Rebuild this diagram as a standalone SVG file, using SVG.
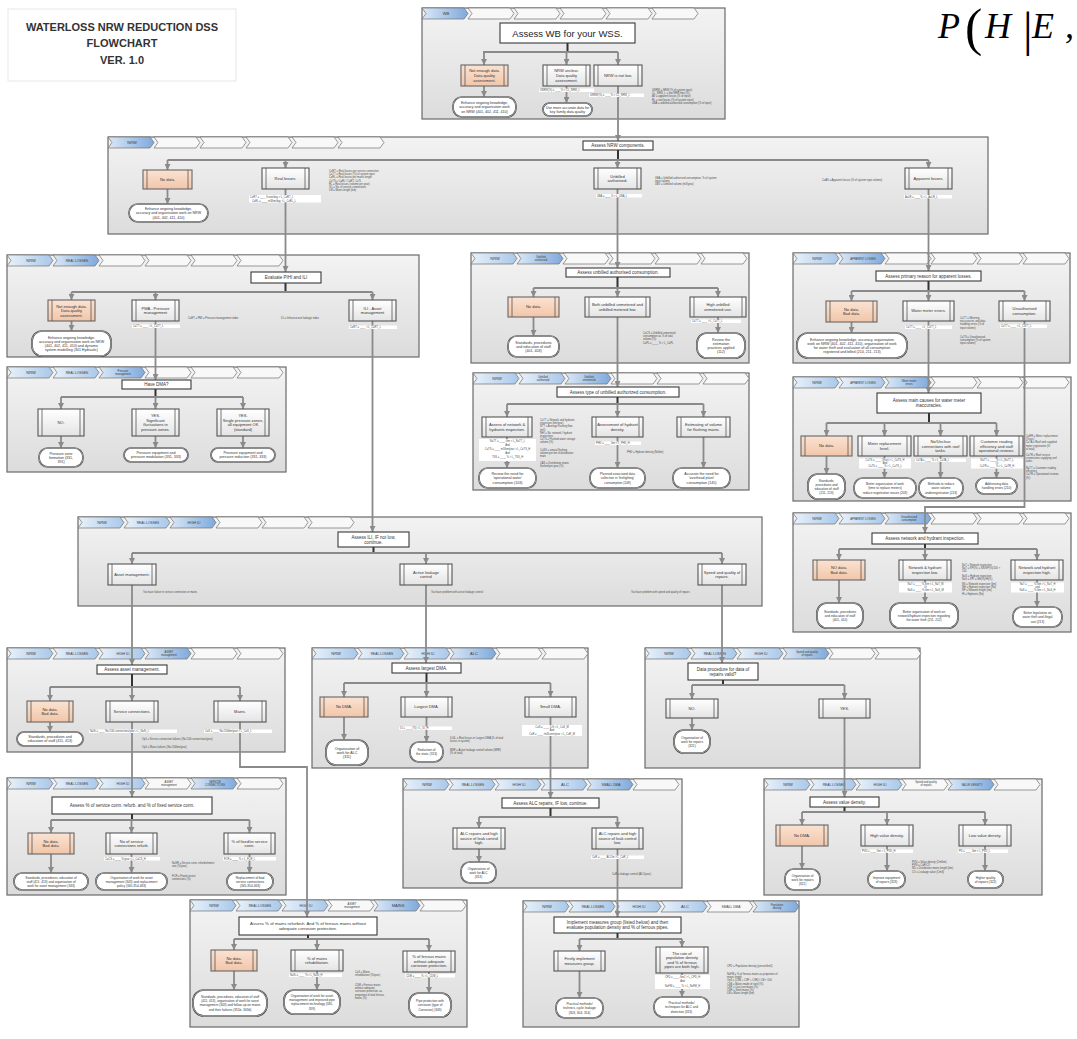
<svg xmlns="http://www.w3.org/2000/svg" width="1077" height="1039" viewBox="0 0 1077 1039">
<style>
text{font-family:"Liberation Sans",Arial,sans-serif;fill:#333}
text.math{font-family:"Liberation Serif","Times New Roman",serif;font-style:italic;fill:#000}
.pn{fill:url(#gP);stroke:#6a6a6a;stroke-width:1.2}
.ch{fill:#f8f8f8;stroke:#707070;stroke-width:0.7}
.cb{fill:url(#gBl);stroke:#707070;stroke-width:0.7}
.ca{fill:url(#gBa);stroke:#707070;stroke-width:0.7}
.p{fill:url(#gB);stroke:#555;stroke-width:1.1}
.o{fill:url(#gO);stroke:#666;stroke-width:1.1}
.b{fill:none;stroke:#555;stroke-width:0.8}
.tm{fill:#fff;stroke:#3a3a3a;stroke-width:1.7}
.tmi{fill:none;stroke:#fff;stroke-width:0.5}
.ti{fill:#fff;stroke:#3a3a3a;stroke-width:1.1}
.wbg{fill:#fff}
.l{font-size:4px;text-anchor:middle}
.tt{font-size:4.5px;text-anchor:middle}
.tr{font-size:3.6px;text-anchor:middle}
.tr2{font-size:3.2px;text-anchor:middle}
.s{font-size:2.6px;fill:#4a4a4a}
.hd{font-size:4px;text-anchor:middle;fill:#3a3a3a}
.hd3{font-size:3.3px;text-anchor:middle;fill:#3a3a3a}
.hd2{font-size:2.7px;text-anchor:middle;fill:#3a3a3a}
.c{fill:none;stroke:#8a8a8a;stroke-width:1.8;marker-end:url(#ah)}
.h{fill:none;stroke:#8a8a8a;stroke-width:1.8}
.d{fill:none;stroke:#333;stroke-width:2}
</style>
<defs>
<linearGradient id="gP" x1="0" y1="0" x2="0" y2="1"><stop offset="0" stop-color="#f3f3f3"/><stop offset="1" stop-color="#dcdcdc"/></linearGradient>
<linearGradient id="gB" x1="0" y1="0" x2="0" y2="1"><stop offset="0" stop-color="#ffffff"/><stop offset="1" stop-color="#e4e4e4"/></linearGradient>
<linearGradient id="gO" x1="0" y1="0" x2="0" y2="1"><stop offset="0" stop-color="#fbe2d2"/><stop offset="1" stop-color="#f1c6a9"/></linearGradient>
<linearGradient id="gBl" x1="0" y1="0" x2="1" y2="0"><stop offset="0" stop-color="#e8f1fa"/><stop offset="1" stop-color="#a9c8ea"/></linearGradient>
<linearGradient id="gBa" x1="0" y1="0" x2="1" y2="0"><stop offset="0" stop-color="#dbe8f6"/><stop offset="1" stop-color="#7ea9dc"/></linearGradient>
<path id="cv" d="M0,0H42L46,5.5L42,11H0L4,5.5Z"/>
<marker id="ah" viewBox="0 0 8 8" refX="8" refY="4" markerWidth="6" markerHeight="6" markerUnits="userSpaceOnUse" orient="auto"><path d="M0,0L8,4L0,8Z" fill="#8a8a8a"/></marker>
</defs>
<rect width="1077" height="1039" fill="#fff"/>

<g id="title-box"><rect x="8" y="9" width="228" height="72" fill="#fff" stroke="#e2e2e2" stroke-width="0.8"/>
<text font-weight="bold" font-size="11" text-anchor="middle" fill="#222"><tspan x="122" y="31">WATERLOSS NRW REDUCTION DSS</tspan><tspan x="122" y="47">FLOWCHART</tspan><tspan x="122" y="64">VER. 1.0</tspan></text></g>

<g id="formula"><text class="math" font-size="36"><tspan x="938" y="38">P</tspan><tspan x="965" y="45" font-style="normal" font-size="52">(</tspan><tspan x="985" y="38">H</tspan><tspan x="1023" y="46" font-style="normal" font-size="48">|</tspan><tspan x="1032" y="38">E</tspan><tspan x="1065" y="38">,</tspan></text></g>

<g id="panels">
<g id="panel-wb"><rect class="pn" x="422" y="8" width="303" height="111"/>
<use href="#cv" x="422" y="8" class="ca"/><use href="#cv" x="468" y="8" class="ch"/><use href="#cv" x="514" y="8" class="ch"/><use href="#cv" x="560" y="8" class="ch"/><use href="#cv" x="606" y="8" class="ch"/><use href="#cv" x="652" y="8" class="ch"/>
<text class="hd" x="446" y="15">WB</text></g>

<g id="panel-nrw"><rect class="pn" x="108" y="137" width="880" height="97"/>
<use href="#cv" x="108" y="137" class="ca"/><use href="#cv" x="154" y="137" class="ch"/><use href="#cv" x="200" y="137" class="ch"/><use href="#cv" x="246" y="137" class="ch"/><use href="#cv" x="292" y="137" class="ch"/><use href="#cv" x="338" y="137" class="ch"/>
<text class="hd" x="132" y="144">NRW</text></g>

<g id="panel-real"><rect class="pn" x="7" y="255" width="412" height="102"/>
<use href="#cv" x="7" y="255" class="cb"/><use href="#cv" x="53" y="255" class="ca"/><use href="#cv" x="99" y="255" class="ch"/><use href="#cv" x="145" y="255" class="ch"/><use href="#cv" x="191" y="255" class="ch"/><use href="#cv" x="237" y="255" class="ch"/>
<text class="hd" x="31" y="262">NRW</text><text class="hd3" x="77" y="262">REAL LOSSES</text></g>

<g id="panel-dma"><rect class="pn" x="7" y="367" width="279" height="105"/>
<use href="#cv" x="7" y="367" class="cb"/><use href="#cv" x="53" y="367" class="cb"/><use href="#cv" x="99" y="367" class="ca"/><use href="#cv" x="145" y="367" class="ch"/><use href="#cv" x="191" y="367" class="ch"/><use href="#cv" x="237" y="367" class="ch"/>
<text class="hd" x="31" y="374">NRW</text><text class="hd3" x="77" y="374">REAL LOSSES</text><text class="hd2"><tspan x="123" y="371.8">Pressure</tspan><tspan x="123" y="375.3">management</tspan></text></g>

<g id="panel-unbilled"><rect class="pn" x="471" y="253" width="278" height="110"/>
<use href="#cv" x="471" y="253" class="cb"/><use href="#cv" x="517" y="253" class="ca"/><use href="#cv" x="563" y="253" class="ch"/><use href="#cv" x="609" y="253" class="ch"/><use href="#cv" x="655" y="253" class="ch"/><use href="#cv" x="701" y="253" class="ch"/>
<text class="hd" x="495" y="260">NRW</text><text class="hd2"><tspan x="541" y="257.8">Unbilled</tspan><tspan x="541" y="261.3">authorised</tspan></text></g>

<g id="panel-type"><rect class="pn" x="473" y="373" width="276" height="117"/>
<use href="#cv" x="473" y="373" class="cb"/><use href="#cv" x="519" y="373" class="cb"/><use href="#cv" x="565" y="373" class="ca"/><use href="#cv" x="611" y="373" class="ch"/><use href="#cv" x="657" y="373" class="ch"/><use href="#cv" x="703" y="373" class="ch"/>
<text class="hd" x="497" y="380">NRW</text><text class="hd2"><tspan x="543" y="377.8">Unbilled</tspan><tspan x="543" y="381.3">authorised</tspan><tspan x="589" y="377.8">Unbilled</tspan><tspan x="589" y="381.3">unmetered</tspan></text></g>

<g id="panel-apparent"><rect class="pn" x="793" y="253" width="277" height="110"/>
<use href="#cv" x="793" y="253" class="cb"/><use href="#cv" x="839" y="253" class="ca"/><use href="#cv" x="885" y="253" class="ch"/><use href="#cv" x="931" y="253" class="ch"/><use href="#cv" x="977" y="253" class="ch"/><use href="#cv" x="1023" y="253" class="ch"/>
<text class="hd" x="817" y="260">NRW</text><text class="hd2" x="863" y="259.6">APPARENT LOSSES</text></g>

<g id="panel-meter"><rect class="pn" x="793" y="377" width="278" height="124"/>
<use href="#cv" x="793" y="377" class="cb"/><use href="#cv" x="839" y="377" class="cb"/><use href="#cv" x="885" y="377" class="ca"/><use href="#cv" x="931" y="377" class="ch"/><use href="#cv" x="977" y="377" class="ch"/><use href="#cv" x="1023" y="377" class="ch"/>
<text class="hd" x="817" y="384">NRW</text><text class="hd2" x="863" y="383.6">APPARENT LOSSES</text><text class="hd2"><tspan x="909" y="381.8">Water meter</tspan><tspan x="909" y="385.3">errors</tspan></text></g>

<g id="panel-network"><rect class="pn" x="793" y="513" width="278" height="119"/>
<use href="#cv" x="793" y="513" class="cb"/><use href="#cv" x="839" y="513" class="cb"/><use href="#cv" x="885" y="513" class="ca"/><use href="#cv" x="931" y="513" class="ch"/><use href="#cv" x="977" y="513" class="ch"/><use href="#cv" x="1023" y="513" class="ch"/>
<text class="hd" x="817" y="520">NRW</text><text class="hd2" x="863" y="519.6">APPARENT LOSSES</text><text class="hd2"><tspan x="909" y="517.8">Unauthorised</tspan><tspan x="909" y="521.3">consumption</tspan></text></g>

<g id="panel-highili"><rect class="pn" x="78" y="517" width="684" height="89"/>
<use href="#cv" x="78" y="517" class="cb"/><use href="#cv" x="124" y="517" class="cb"/><use href="#cv" x="170" y="517" class="ca"/><use href="#cv" x="216" y="517" class="ch"/><use href="#cv" x="262" y="517" class="ch"/><use href="#cv" x="308" y="517" class="ch"/>
<text class="hd" x="102" y="524">NRW</text><text class="hd3" x="148" y="524">REAL LOSSES</text><text class="hd3" x="194" y="524">HIGH ILI</text></g>

<g id="panel-asset"><rect class="pn" x="7" y="648" width="278" height="104"/>
<use href="#cv" x="7" y="648" class="cb"/><use href="#cv" x="53" y="648" class="cb"/><use href="#cv" x="99" y="648" class="cb"/><use href="#cv" x="145" y="648" class="ca"/><use href="#cv" x="191" y="648" class="ch"/><use href="#cv" x="237" y="648" class="ch"/>
<text class="hd" x="31" y="655">NRW</text><text class="hd3" x="77" y="655">REAL LOSSES</text><text class="hd3" x="123" y="655">HIGH ILI</text><text class="hd2"><tspan x="169" y="652.8">ASSET</tspan><tspan x="169" y="656.3">management</tspan></text></g>

<g id="panel-alc"><rect class="pn" x="312" y="648" width="276" height="120"/>
<use href="#cv" x="312" y="648" class="cb"/><use href="#cv" x="358" y="648" class="cb"/><use href="#cv" x="404" y="648" class="cb"/><use href="#cv" x="450" y="648" class="ca"/><use href="#cv" x="496" y="648" class="ch"/><use href="#cv" x="542" y="648" class="ch"/>
<text class="hd" x="336" y="655">NRW</text><text class="hd3" x="382" y="655">REAL LOSSES</text><text class="hd3" x="428" y="655">HIGH ILI</text><text class="hd" x="474" y="655">ALC</text></g>

<g id="panel-repairs"><rect class="pn" x="645" y="648" width="275" height="120"/>
<use href="#cv" x="645" y="648" class="cb"/><use href="#cv" x="691" y="648" class="cb"/><use href="#cv" x="737" y="648" class="cb"/><use href="#cv" x="783" y="648" class="ca"/><use href="#cv" x="829" y="648" class="ch"/><use href="#cv" x="875" y="648" class="ch"/>
<text class="hd" x="669" y="655">NRW</text><text class="hd3" x="715" y="655">REAL LOSSES</text><text class="hd3" x="761" y="655">HIGH ILI</text><text class="hd2"><tspan x="807" y="652.8">Speed and quality</tspan><tspan x="807" y="656.3">of repairs</tspan></text></g>

<g id="panel-service"><rect class="pn" x="7" y="778" width="279" height="117"/>
<use href="#cv" x="7" y="778" class="cb"/><use href="#cv" x="53" y="778" class="cb"/><use href="#cv" x="99" y="778" class="cb"/><use href="#cv" x="145" y="778" class="ch"/><use href="#cv" x="191" y="778" class="ca"/><use href="#cv" x="237" y="778" class="ch"/>
<text class="hd" x="31" y="785">NRW</text><text class="hd3" x="77" y="785">REAL LOSSES</text><text class="hd3" x="123" y="785">HIGH ILI</text><text class="hd2"><tspan x="169" y="782.8">ASSET</tspan><tspan x="169" y="786.3">management</tspan><tspan x="215" y="782.8">SERVICE</tspan><tspan x="215" y="786.3">CONNECTIONS</tspan></text></g>

<g id="panel-mains"><rect class="pn" x="190" y="900" width="277" height="127"/>
<use href="#cv" x="190" y="900" class="cb"/><use href="#cv" x="236" y="900" class="cb"/><use href="#cv" x="282" y="900" class="cb"/><use href="#cv" x="328" y="900" class="ch"/><use href="#cv" x="374" y="900" class="ca"/><use href="#cv" x="420" y="900" class="ch"/>
<text class="hd" x="214" y="907">NRW</text><text class="hd3" x="260" y="907">REAL LOSSES</text><text class="hd3" x="306" y="907">HIGH ILI</text><text class="hd2"><tspan x="352" y="904.8">ASSET</tspan><tspan x="352" y="908.3">management</tspan></text><text class="hd" x="398" y="907">MAINS</text></g>

<g id="panel-smalldma"><rect class="pn" x="403" y="779" width="279" height="109"/>
<use href="#cv" x="403" y="779" class="cb"/><use href="#cv" x="449" y="779" class="cb"/><use href="#cv" x="495" y="779" class="cb"/><use href="#cv" x="541" y="779" class="cb"/><use href="#cv" x="587" y="779" class="ca"/><use href="#cv" x="633" y="779" class="ch"/>
<text class="hd" x="427" y="786">NRW</text><text class="hd3" x="473" y="786">REAL LOSSES</text><text class="hd3" x="519" y="786">HIGH ILI</text><text class="hd" x="565" y="786">ALC</text><text class="hd3" x="611" y="786">SMALL DMA</text></g>

<g id="panel-implement"><rect class="pn" x="523" y="901" width="276" height="126"/>
<use href="#cv" x="523" y="901" class="cb"/><use href="#cv" x="569" y="901" class="cb"/><use href="#cv" x="615" y="901" class="cb"/><use href="#cv" x="661" y="901" class="cb"/><use href="#cv" x="707" y="901" class="ch"/><use href="#cv" x="753" y="901" class="ca"/>
<text class="hd" x="547" y="908">NRW</text><text class="hd3" x="593" y="908">REAL LOSSES</text><text class="hd3" x="639" y="908">HIGH ILI</text><text class="hd" x="685" y="908">ALC</text><text class="hd3" x="731" y="908">SMALL DMA</text><text class="hd2"><tspan x="777" y="905.8">Population</tspan><tspan x="777" y="909.3">density</tspan></text></g>

<g id="panel-value"><rect class="pn" x="764" y="779" width="278" height="116"/>
<use href="#cv" x="764" y="779" class="cb"/><use href="#cv" x="810" y="779" class="cb"/><use href="#cv" x="856" y="779" class="cb"/><use href="#cv" x="902" y="779" class="ch"/><use href="#cv" x="948" y="779" class="ca"/><use href="#cv" x="994" y="779" class="ch"/>
<text class="hd" x="788" y="786">NRW</text><text class="hd3" x="834" y="786">REAL LOSSES</text><text class="hd3" x="880" y="786">HIGH ILI</text><text class="hd2"><tspan x="926" y="782.8">Speed and quality</tspan><tspan x="926" y="786.3">of repairs</tspan></text><text class="hd2" x="972" y="785.6">VALUE DENSITY</text></g>
</g>

<g id="connectors">
<path class="d" d="M567.5,43V52M618,150V160M285.5,283V292M155.5,389V397M617.5,277V288M617.5,397V404M928.5,281V291M929,413V423M925,544V549M373.5,547V553M132,674V687M426.5,673V683M723,680V685M132,814V820M308,935V939M550.5,808V817M617.5,933V939M844.5,807V812"/>
<path class="h" d="M483,52H618M167.5,160H928.5M71.5,292H372.5M61,397H243M533.5,288H718M507,404H703.5M851.5,291H1024.5M826.5,423H996.5M839,549H1037M132,553H722M50,687H240M344,683H550.5M692,685H844.5M51,820H249.5M234,939H429M479,817H617.5M579.5,939H682M802,812H985"/>
<path class="c" d="M484,52V65"/><path class="c" d="M566.5,52V65"/><path class="c" d="M618,52V65"/>
<path class="c" d="M484,86V97"/><path class="c" d="M566.5,86V103"/>
<path class="c" d="M618,86V141"/>
<path class="c" d="M167.5,160V170"/><path class="c" d="M285.5,160V168"/><path class="c" d="M617.5,160V168"/><path class="c" d="M928.5,160V168"/>
<path class="c" d="M167.5,189V204"/>
<path class="c" d="M285.5,189V272"/><path class="c" d="M617.5,189V268"/><path class="c" d="M928.5,189V271"/>
<path class="c" d="M71.5,292V300"/><path class="c" d="M155.5,292V300"/><path class="c" d="M372.5,292V300"/>
<path class="c" d="M71.5,321V331"/>
<path class="c" d="M155.5,321V380"/><path class="c" d="M372.5,321V532"/>
<path class="c" d="M61,397V409"/><path class="c" d="M155.5,397V409"/><path class="c" d="M243,397V409"/>
<path class="c" d="M61,436V448"/><path class="c" d="M155.5,436V448"/><path class="c" d="M243,436V448"/>
<path class="c" d="M533.5,288V297"/><path class="c" d="M617.5,288V297"/><path class="c" d="M718,288V297"/>
<path class="c" d="M533.5,317V336"/><path class="c" d="M718,317V333"/>
<path class="c" d="M617.5,317V387"/>
<path class="c" d="M507,404V417"/><path class="c" d="M617.5,404V417"/><path class="c" d="M703.5,404V417"/>
<path class="c" d="M507,437V468"/><path class="c" d="M617.5,437V468"/><path class="c" d="M703.5,437V468"/>
<path class="c" d="M851.5,291V301"/><path class="c" d="M928.5,291V301"/><path class="c" d="M1024.5,291V301"/>
<path class="c" d="M851.5,322V333"/>
<path class="c" d="M928.5,321V393"/><path class="c" d="M1024.5,321V507H925V533"/>
<path class="c" d="M826.5,423V436"/><path class="c" d="M884.5,423V436"/><path class="c" d="M940.5,423V436"/><path class="c" d="M996.5,423V436"/>
<path class="c" d="M826.5,456V474"/><path class="c" d="M884.5,456V478"/><path class="c" d="M940.5,456V478"/><path class="c" d="M996.5,456V478"/>
<path class="c" d="M839,549V560"/><path class="c" d="M925,549V560"/><path class="c" d="M1037,549V560"/>
<path class="c" d="M839,580V603"/><path class="c" d="M925,580V603"/><path class="c" d="M1037,580V607"/>
<path class="c" d="M132,553V564"/><path class="c" d="M426,553V564"/><path class="c" d="M722,553V564"/>
<path class="c" d="M132,585V665"/><path class="c" d="M426,585V663"/><path class="c" d="M722,585V663"/>
<path class="c" d="M50,687V701"/><path class="c" d="M132,687V701"/><path class="c" d="M240,687V701"/>
<path class="c" d="M50,722V732"/>
<path class="c" d="M132,722V797"/><path class="c" d="M240,722V767H307V917"/>
<path class="c" d="M344,683V697"/><path class="c" d="M426.5,683V697"/><path class="c" d="M550.5,683V697"/>
<path class="c" d="M344,717V740"/><path class="c" d="M426.5,717V742"/>
<path class="c" d="M550.5,717V798"/>
<path class="c" d="M692,685V699"/><path class="c" d="M844.5,685V699"/>
<path class="c" d="M692,718V730"/>
<path class="c" d="M844.5,718V797"/>
<path class="c" d="M51,820V833"/><path class="c" d="M131.5,820V833"/><path class="c" d="M249.5,820V833"/>
<path class="c" d="M51,854V873"/><path class="c" d="M131.5,854V873"/><path class="c" d="M249.5,854V873"/>
<path class="c" d="M234,939V950"/><path class="c" d="M317,939V950"/><path class="c" d="M429,939V951"/>
<path class="c" d="M234,971V990"/><path class="c" d="M317,971V990"/><path class="c" d="M429,972V993"/>
<path class="c" d="M479,817V828"/><path class="c" d="M617.5,817V828"/>
<path class="c" d="M479,849V862"/>
<path class="c" d="M617.5,849V917"/>
<path class="c" d="M579.5,939V951"/><path class="c" d="M682,939V947"/>
<path class="c" d="M579.5,971V998"/><path class="c" d="M682,973V997"/>
<path class="c" d="M802,812V825"/><path class="c" d="M887,812V825"/><path class="c" d="M985,812V825"/>
<path class="c" d="M802,846V869"/><path class="c" d="M887,846V871"/><path class="c" d="M985,846V871"/>
</g>

<g id="nodes">
<!-- WB -->
<g id="wb-title"><rect class="ti" x="500" y="23" width="135" height="20"/><text x="567.5" y="36.5" font-size="9.5" text-anchor="middle" style="fill:#1e1e1e">Assess WB for your WSS.</text></g>
<g id="wb-nodata"><rect class="o" x="461" y="65" width="47" height="21"/><path class="b" d="M465,65v21M504,65v21"/><text class="l"><tspan x="484.5" y="72.3">Not enough data.</tspan><tspan x="484.5" y="76.9">Data quality</tspan><tspan x="484.5" y="81.5">assessment.</tspan></text></g>
<g id="wb-unclear"><rect class="p" x="543" y="65" width="47" height="21"/><path class="b" d="M547,65v21M586,65v21"/><text class="l"><tspan x="566.5" y="72.3">NRW unclear.</tspan><tspan x="566.5" y="76.9">Data quality</tspan><tspan x="566.5" y="81.5">assessment.</tspan></text></g>
<g id="wb-notlow"><rect class="p" x="594" y="65" width="48" height="21"/><path class="b" d="M598,65v21M638,65v21"/><text class="l" x="618" y="76.9">NRW is not low.</text></g>
<g id="wb-t1"><rect class="tm" x="453" y="97" width="63" height="20" rx="9"/><rect class="tmi" x="453" y="97" width="63" height="20" rx="9"/><text class="tr"><tspan x="484.5" y="104.1">Enhance ongoing knowledge,</tspan><tspan x="484.5" y="108.3">accuracy and organisation work</tspan><tspan x="484.5" y="112.5">on NRW (401, 402, 411, 410)</tspan></text></g>
<g id="wb-t2"><rect class="tm" x="543" y="103" width="49" height="13" rx="6.5"/><rect class="tmi" x="543" y="103" width="49" height="13" rx="6.5"/><text class="tr"><tspan x="567.5" y="108.7">Use more accurate data for</tspan><tspan x="567.5" y="112.9">key family data quality</tspan></text></g>
<g id="wb-notes"><rect class="wbg" x="539" y="88.5" width="55" height="3.5"/><text class="s" x="540" y="91.3">UNRW(%) = ____% &lt; CL_NRW_L</text>
<rect class="wbg" x="589" y="93.5" width="55" height="3.5"/><text class="s" x="590" y="96.3">UNRW(%) = ____% &gt; CL_NRW_L</text>
<text class="s"><tspan x="652" y="91">UNRW = NRW (% of system input)</tspan><tspan x="652" y="94.2">CL_NRW_L = low NRW limit (%)</tspan><tspan x="652" y="97.4">AV = apparent losses (% of input)</tspan><tspan x="652" y="100.6">RL = real losses (% of system input)</tspan><tspan x="652" y="103.8">UBA = unbilled authorised consumption (% of input)</tspan></text></g>

<!-- NRW -->
<g id="nrw-title"><rect class="ti" x="583" y="141" width="70" height="9"/><text class="tt" x="618" y="147.2">Assess NRW components.</text></g>
<g id="nrw-nodata"><rect class="o" x="143" y="170" width="49" height="19"/><path class="b" d="M147,170v19M188,170v19"/><text class="l" x="167.5" y="180.9">No data.</text></g>
<g id="nrw-real"><rect class="p" x="262" y="168" width="47" height="21"/><path class="b" d="M266,168v21M305,168v21"/><text class="l" x="285.5" y="179.9">Real losses.</text></g>
<g id="nrw-unbilled"><rect class="p" x="594" y="168" width="47" height="21"/><path class="b" d="M598,168v21M637,168v21"/><text class="l"><tspan x="617.5" y="177.6">Unbilled</tspan><tspan x="617.5" y="182.2">authorised.</tspan></text></g>
<g id="nrw-apparent"><rect class="p" x="905" y="168" width="47" height="21"/><path class="b" d="M909,168v21M948,168v21"/><text class="l" x="928.5" y="179.9">Apparent losses.</text></g>
<g id="nrw-t1"><rect class="tm" x="129" y="204" width="79" height="18" rx="9"/><rect class="tmi" x="129" y="204" width="79" height="18" rx="9"/><text class="tr"><tspan x="168.5" y="210.1">Enhance ongoing knowledge,</tspan><tspan x="168.5" y="214.3">accuracy and organisation work on NRW</tspan><tspan x="168.5" y="218.5">(401, 402, 411, 410)</tspan></text></g>
<g id="nrw-notes"><text class="s"><tspan x="329" y="172">CaRT = Real losses per service connection</tspan><tspan x="329" y="175.2">CaTT = Real losses (%) of system input</tspan><tspan x="329" y="178.4">CaRL = Real losses per mains length</tspan><tspan x="329" y="181.6">CaTS = CaRL / CaRT, CaTL</tspan><tspan x="329" y="184.8">RL = Real losses (volume per year)</tspan><tspan x="329" y="188">SC = No. of service connections</tspan><tspan x="329" y="191.2">LM = Mains length (km)</tspan></text>
<rect class="wbg" x="249" y="195" width="72" height="7.5"/><text class="s"><tspan x="250" y="198">CaRT = ____ l/conn/day &gt; L_CaRT_L</tspan><tspan x="252" y="201.6">CaRL = ____ m3/km/day &gt; L_CaRL_L</tspan></text>
<rect class="wbg" x="596" y="194" width="46" height="3.5"/><text class="s" x="597" y="196.8">UBA = ____% &gt; L_UBA_L</text>
<text class="s"><tspan x="655" y="179">UBA = Unbilled authorised consumption, % of system</tspan><tspan x="655" y="182.2">input volume</tspan><tspan x="655" y="185.4">UBV = Unbilled volume (m3/year)</tspan></text>
<text class="s" x="822" y="180.5">CaAS = Apparent losses (% of system input volume)</text>
<rect class="wbg" x="904" y="195" width="48" height="3.5"/><text class="s" x="905" y="197.8">AaLR = ____% &gt; L_AaLR_L</text></g>

<!-- REAL LOSSES -->
<g id="rl-title"><rect class="ti" x="251" y="272" width="70" height="11"/><text class="tt" x="286" y="279.2">Evaluate PIHI and ILI</text></g>
<g id="rl-nodata"><rect class="o" x="48" y="300" width="47" height="21"/><path class="b" d="M52,300v21M91,300v21"/><text class="l"><tspan x="71.5" y="307.6">Not enough data.</tspan><tspan x="71.5" y="312.2">Data quality</tspan><tspan x="71.5" y="316.8">assessment.</tspan></text></g>
<g id="rl-pma"><rect class="p" x="132" y="300" width="47" height="21"/><path class="b" d="M136,300v21M175,300v21"/><text class="l"><tspan x="155.5" y="309.6">PMA - Pressure</tspan><tspan x="155.5" y="314.2">management</tspan></text></g>
<g id="rl-ili"><rect class="p" x="349" y="300" width="47" height="21"/><path class="b" d="M353,300v21M392,300v21"/><text class="l"><tspan x="372.5" y="309.6">ILI - Asset</tspan><tspan x="372.5" y="314.2">management</tspan></text></g>
<g id="rl-t1"><rect class="tm" x="32" y="331" width="79" height="25" rx="10"/><rect class="tmi" x="32" y="331" width="79" height="25" rx="10"/><text class="tr"><tspan x="71.5" y="338.5">Enhance ongoing knowledge,</tspan><tspan x="71.5" y="342.7">accuracy and organisation work on NRW</tspan><tspan x="71.5" y="346.9">(401, 402, 411, 410) and dynamic</tspan><tspan x="71.5" y="351.1">system modelling (301 Hydraulic)</tspan></text></g>
<g id="rl-notes"><text class="s" x="188" y="318.5">CaRT = PMI = Pressure management index</text><text class="s" x="281" y="318.5">ILI = Infrastructure leakage index</text>
<rect class="wbg" x="132" y="324.5" width="48" height="3.5"/><text class="s" x="133" y="327.3">CaTT = ____ &gt; L_CaTT_L</text>
<rect class="wbg" x="349" y="325.5" width="48" height="3.5"/><text class="s" x="350" y="328.3">CaRT = ____ &gt; L_CaRT_L</text></g>

<!-- HAVE DMA -->
<g id="dma-title"><rect class="ti" x="122" y="380" width="69" height="9"/><text class="tt" x="156.5" y="386.2">Have DMA?</text></g>
<g id="dma-no"><rect class="p" x="38" y="409" width="46" height="27"/><path class="b" d="M42,409v27M80,409v27"/><text class="l" x="61" y="423.9">NO.</text></g>
<g id="dma-yes1"><rect class="p" x="132" y="409" width="47" height="27"/><path class="b" d="M136,409v27M175,409v27"/><text class="l"><tspan x="155.5" y="417">YES.</tspan><tspan x="155.5" y="421.6">Significant</tspan><tspan x="155.5" y="426.2">fluctuations in</tspan><tspan x="155.5" y="430.8">pressure zones.</tspan></text></g>
<g id="dma-yes2"><rect class="p" x="217" y="409" width="52" height="27"/><path class="b" d="M221,409v27M265,409v27"/><text class="l"><tspan x="243" y="417">YES.</tspan><tspan x="243" y="421.6">Single pressure zones,</tspan><tspan x="243" y="426.2">all equipment OK</tspan><tspan x="243" y="430.8">(standard)</tspan></text></g>
<g id="dma-t1"><rect class="tm" x="39" y="448" width="44" height="19" rx="9"/><rect class="tmi" x="39" y="448" width="44" height="19" rx="9"/><text class="tr"><tspan x="61" y="454.6">Pressure zone</tspan><tspan x="61" y="458.8">formation (331,</tspan><tspan x="61" y="463">391)</tspan></text></g>
<g id="dma-t2"><rect class="tm" x="124" y="448" width="64" height="14" rx="7"/><rect class="tmi" x="124" y="448" width="64" height="14" rx="7"/><text class="tr"><tspan x="156" y="454.2">Pressure equipment and</tspan><tspan x="156" y="458.4">pressure modulation (331, 333)</tspan></text></g>
<g id="dma-t3"><rect class="tm" x="211" y="448" width="64" height="14" rx="7"/><rect class="tmi" x="211" y="448" width="64" height="14" rx="7"/><text class="tr"><tspan x="243" y="454.2">Pressure equipment and</tspan><tspan x="243" y="458.4">pressure reduction (331, 333)</tspan></text></g>

<!-- UNBILLED -->
<g id="ub-title"><rect class="ti" x="566" y="268" width="104" height="9"/><text class="tt" x="618" y="274.2">Assess unbilled authorised consumption.</text></g>
<g id="ub-nodata"><rect class="o" x="508" y="297" width="51" height="20"/><path class="b" d="M512,297v20M555,297v20"/><text class="l" x="533.5" y="308.4">No data.</text></g>
<g id="ub-low"><rect class="p" x="585" y="297" width="65" height="20"/><path class="b" d="M589,297v20M646,297v20"/><text class="l"><tspan x="617.5" y="306.1">Both unbilled unmetered and</tspan><tspan x="617.5" y="310.7">unbilled metered low.</tspan></text></g>
<g id="ub-high"><rect class="p" x="690" y="297" width="56" height="20"/><path class="b" d="M694,297v20M742,297v20"/><text class="l"><tspan x="718" y="306.1">High unbilled</tspan><tspan x="718" y="310.7">unmetered use.</tspan></text></g>
<g id="ub-t1"><rect class="tm" x="508" y="336" width="51" height="21" rx="9"/><rect class="tmi" x="508" y="336" width="51" height="21" rx="9"/><text class="tr"><tspan x="533.5" y="343.6">Standards, procedures</tspan><tspan x="533.5" y="347.8">and education of staff</tspan><tspan x="533.5" y="352">(401, 403)</tspan></text></g>
<g id="ub-t2"><rect class="tm" x="697" y="333" width="48" height="25" rx="10"/><rect class="tmi" x="697" y="333" width="48" height="25" rx="10"/><text class="tr"><tspan x="721" y="340.5">Review the</tspan><tspan x="721" y="344.7">estimation</tspan><tspan x="721" y="348.9">practices applied</tspan><tspan x="721" y="353.1">(112)</tspan></text></g>
<g id="ub-notes"><rect class="wbg" x="691" y="319.5" width="50" height="3.5"/><text class="s" x="692" y="322.3">CaTT = ____ &gt; L_CaTT_L</text>
<text class="s"><tspan x="643" y="334">CaCS = Unbilled unmetered</tspan><tspan x="643" y="337.2">consumption as % of total</tspan><tspan x="643" y="340.4">volume (%)</tspan><tspan x="643" y="343.6">CaPL = ____ % &gt; L_CaPL</tspan></text></g>

<!-- TYPE -->
<g id="ty-title"><rect class="ti" x="557" y="387" width="122" height="10"/><text class="tt" x="618" y="393.6">Assess type of unbilled authorized consumption.</text></g>
<g id="ty-b1"><rect class="p" x="482" y="417" width="50" height="20"/><path class="b" d="M486,417v20M528,417v20"/><text class="l"><tspan x="507" y="426.1">Assess of network &amp;</tspan><tspan x="507" y="430.7">hydrants inspection.</tspan></text></g>
<g id="ty-b2"><rect class="p" x="592" y="417" width="51" height="20"/><path class="b" d="M596,417v20M639,417v20"/><text class="l"><tspan x="617.5" y="426.1">Assessment of hydrant</tspan><tspan x="617.5" y="430.7">density.</tspan></text></g>
<g id="ty-b3"><rect class="p" x="677" y="417" width="53" height="20"/><path class="b" d="M681,417v20M726,417v20"/><text class="l"><tspan x="703.5" y="426.1">Estimating of volume</tspan><tspan x="703.5" y="430.7">for flushing mains.</tspan></text></g>
<g id="ty-t1"><rect class="tm" x="479" y="468" width="57" height="20" rx="9"/><rect class="tmi" x="479" y="468" width="57" height="20" rx="9"/><text class="tr"><tspan x="507.5" y="475.1">Review the need for</tspan><tspan x="507.5" y="479.3">'operational water'</tspan><tspan x="507.5" y="483.5">consumption (103)</tspan></text></g>
<g id="ty-t2"><rect class="tm" x="590" y="468" width="55" height="20" rx="9"/><rect class="tmi" x="590" y="468" width="55" height="20" rx="9"/><text class="tr2"><tspan x="617.5" y="475.1">Planned associated data</tspan><tspan x="617.5" y="479.3">collection in 'firefighting'</tspan><tspan x="617.5" y="483.5">consumption (108)</tspan></text></g>
<g id="ty-t3"><rect class="tm" x="673" y="468" width="57" height="20" rx="9"/><rect class="tmi" x="673" y="468" width="57" height="20" rx="9"/><text class="tr"><tspan x="701.5" y="475.1">Accurate the need for</tspan><tspan x="701.5" y="479.3">'overhead plant'</tspan><tspan x="701.5" y="483.5">consumption (145)</tspan></text></g>
<g id="ty-notes"><rect class="wbg" x="479" y="439" width="57" height="22"/><text class="s" text-anchor="middle"><tspan x="507.5" y="442">NaTT = ____ /km &lt; L_NaTT_L</tspan><tspan x="507.5" y="446">And</tspan><tspan x="507.5" y="450">CaTS = ____ m3/km/year &gt; L_CaTS_H</tspan><tspan x="507.5" y="454">And</tspan><tspan x="507.5" y="458">TSS = ____ % &gt; L_TSS_H</tspan></text>
<text class="s"><tspan x="540" y="421">CaTT = Network and hydrants</tspan><tspan x="540" y="424.2">inspection (km/year)</tspan><tspan x="540" y="427.4">NTT = Average flushing flow</tspan><tspan x="540" y="430.6">(m3)</tspan><tspan x="540" y="433.8">NHI = No. network / hydrant</tspan><tspan x="540" y="437">inspections</tspan><tspan x="540" y="440.2">CaTS = Flushed water storage</tspan><tspan x="540" y="443.4">volume (%)</tspan><tspan x="540" y="451">CaSS = annual flushing</tspan><tspan x="540" y="454.2">volume per km of distribution</tspan><tspan x="540" y="457.4">main</tspan><tspan x="540" y="464">CAS = Distribution mains</tspan><tspan x="540" y="467.2">flushed per year (%)</tspan></text>
<rect class="wbg" x="595" y="441.5" width="46" height="3.5"/><text class="s" x="596" y="444.3">PHD = ____ /km &gt; L_PHD_H</text>
<text class="s" x="627" y="453">PHD = Hydrant density (No/km)</text></g>

<!-- APPARENT -->
<g id="ap-title"><rect class="ti" x="876" y="271" width="105" height="10"/><text class="tt" x="928.5" y="277.6">Assess primary reason for apparent losses.</text></g>
<g id="ap-nodata"><rect class="o" x="826" y="301" width="51" height="21"/><path class="b" d="M830,301v21M873,301v21"/><text class="l"><tspan x="851.5" y="310.6">No data.</tspan><tspan x="851.5" y="315.2">Bad data.</tspan></text></g>
<g id="ap-meter"><rect class="p" x="903" y="301" width="51" height="20"/><path class="b" d="M907,301v20M950,301v20"/><text class="l" x="928.5" y="312.4">Water meter errors.</text></g>
<g id="ap-unauth"><rect class="p" x="999" y="301" width="51" height="20"/><path class="b" d="M1003,301v20M1046,301v20"/><text class="l"><tspan x="1024.5" y="310.1">Unauthorised</tspan><tspan x="1024.5" y="314.7">consumption.</tspan></text></g>
<g id="ap-t1"><rect class="tm" x="797" y="333" width="110" height="25" rx="11"/><rect class="tmi" x="797" y="333" width="110" height="25" rx="11"/><text class="tr"><tspan x="852" y="340.5">Enhance ongoing knowledge, accuracy, organisation</tspan><tspan x="852" y="344.7">work on NRW (401, 402, 411, 410), organisation of work</tspan><tspan x="852" y="348.9">for water theft and evaluation of all consumption</tspan><tspan x="852" y="353.1">registered and billed (214, 211, 213)</tspan></text></g>
<g id="ap-notes"><rect class="wbg" x="905" y="325.5" width="47" height="3.5"/><text class="s" x="906" y="328.3">CaTT = ____ &gt; L_CaTT_L</text>
<rect class="wbg" x="1000" y="324.5" width="47" height="3.5"/><text class="s" x="1001" y="327.3">CaTT = ____ &gt; L_CaTT_L</text>
<text class="s"><tspan x="960" y="319">CaTT = Metering</tspan><tspan x="960" y="322.2">inaccuracies and data</tspan><tspan x="960" y="325.4">handling errors (% of</tspan><tspan x="960" y="328.6">input volume)</tspan><tspan x="960" y="338">CaTS = Unauthorised</tspan><tspan x="960" y="341.2">consumption (% of system</tspan><tspan x="960" y="344.4">input volume)</tspan></text></g>

<!-- METER -->
<g id="me-title"><rect class="ti" x="877" y="393" width="104" height="20"/><text class="tt"><tspan x="929" y="402.1">Assess main causes for water meter</tspan><tspan x="929" y="407.1">inaccuracies.</tspan></text></g>
<g id="me-nodata"><rect class="o" x="801" y="436" width="51" height="20"/><path class="b" d="M805,436v20M848,436v20"/><text class="l" x="826.5" y="447.4">No data.</text></g>
<g id="me-b2"><rect class="p" x="858" y="436" width="53" height="20"/><path class="b" d="M862,436v20M907,436v20"/><text class="l"><tspan x="884.5" y="445.1">Meter replacement</tspan><tspan x="884.5" y="449.7">level.</tspan></text></g>
<g id="me-b3"><rect class="p" x="914" y="436" width="53" height="20"/><path class="b" d="M918,436v20M963,436v20"/><text class="l"><tspan x="940.5" y="443">No/Unclear</tspan><tspan x="940.5" y="447.6">connections with roof</tspan><tspan x="940.5" y="452.2">tanks.</tspan></text></g>
<g id="me-b4"><rect class="p" x="970" y="436" width="53" height="20"/><path class="b" d="M974,436v20M1019,436v20"/><text class="l"><tspan x="996.5" y="443">Customer reading</tspan><tspan x="996.5" y="447.6">efficiency and staff</tspan><tspan x="996.5" y="452.2">operational reviews.</tspan></text></g>
<g id="me-t1"><rect class="tm" x="808" y="474" width="37" height="25" rx="10"/><rect class="tmi" x="808" y="474" width="37" height="25" rx="10"/><text class="tr2"><tspan x="826.5" y="481.5">Standards,</tspan><tspan x="826.5" y="485.7">procedures and</tspan><tspan x="826.5" y="489.9">education of staff</tspan><tspan x="826.5" y="494.1">(211, 213)</tspan></text></g>
<g id="me-t2"><rect class="tm" x="854" y="478" width="62" height="20" rx="9"/><rect class="tmi" x="854" y="478" width="62" height="20" rx="9"/><text class="tr2"><tspan x="885" y="485.1">Better organisation of work</tspan><tspan x="885" y="489.3">(time to replace meters)</tspan><tspan x="885" y="493.5">reduce registration issues (203)</tspan></text></g>
<g id="me-t3"><rect class="tm" x="919" y="478" width="44" height="20" rx="9"/><rect class="tmi" x="919" y="478" width="44" height="20" rx="9"/><text class="tr2"><tspan x="941" y="485.1">Methods to reduce</tspan><tspan x="941" y="489.3">water volume</tspan><tspan x="941" y="493.5">underregistration (213)</tspan></text></g>
<g id="me-t4"><rect class="tm" x="976" y="478" width="41" height="16" rx="8"/><rect class="tmi" x="976" y="478" width="41" height="16" rx="8"/><text class="tr2"><tspan x="996.5" y="485.2">Addressing data</tspan><tspan x="996.5" y="489.4">handling errors (210)</tspan></text></g>
<g id="me-notes"><rect class="wbg" x="859" y="458.5" width="52" height="10"/><text class="s" text-anchor="middle"><tspan x="885" y="461.2">CaTS = ____ (Year) &gt; L_CaTS_H</tspan><tspan x="885" y="464.2">And</tspan><tspan x="885" y="467.2">CaTS = ____ % &gt; L_CaTS_L</tspan></text>
<rect class="wbg" x="915" y="458.5" width="51" height="3.5"/><text class="s" x="916" y="461.2">CaTA = ____ % &gt; L_CaTA_L</text>
<rect class="wbg" x="971" y="458.5" width="52" height="10"/><text class="s" text-anchor="middle"><tspan x="997" y="461.2">NaTT = ____ % &lt; L_NaTT_L</tspan><tspan x="997" y="464.2">Or</tspan><tspan x="997" y="467.2">CaTR = ____ % &gt; L_CaTR_H</tspan></text>
<text class="s"><tspan x="1026" y="437">CaRR = Meter replacement</tspan><tspan x="1026" y="440.2">(Years)</tspan><tspan x="1026" y="443.4">CaTA = Roof tank supplied</tspan><tspan x="1026" y="446.6">meter registration (%</tspan><tspan x="1026" y="449.8">of total)</tspan><tspan x="1026" y="456">CaTR = Roof service</tspan><tspan x="1026" y="459.2">connections supplying roof</tspan><tspan x="1026" y="462.4">tanks</tspan><tspan x="1026" y="469">NaTT = Customer reading</tspan><tspan x="1026" y="472.2">efficiency</tspan><tspan x="1026" y="475.4">CaTR = Operational reviews</tspan><tspan x="1026" y="478.6">(%)</tspan></text></g>

<!-- NETWORK -->
<g id="nw-title"><rect class="ti" x="872" y="533" width="106" height="11"/><text class="tt" x="925" y="540.1">Assess network and hydrant inspection.</text></g>
<g id="nw-nodata"><rect class="o" x="813" y="560" width="52" height="20"/><path class="b" d="M817,560v20M861,560v20"/><text class="l"><tspan x="839" y="569.1">NO data.</tspan><tspan x="839" y="573.7">Bad data.</tspan></text></g>
<g id="nw-low"><rect class="p" x="899" y="560" width="52" height="20"/><path class="b" d="M903,560v20M947,560v20"/><text class="l"><tspan x="925" y="569.1">Network &amp; hydrant</tspan><tspan x="925" y="573.7">inspection low.</tspan></text></g>
<g id="nw-high"><rect class="p" x="1011" y="560" width="52" height="20"/><path class="b" d="M1015,560v20M1059,560v20"/><text class="l"><tspan x="1037" y="569.1">Network and hydrant</tspan><tspan x="1037" y="573.7">inspection high.</tspan></text></g>
<g id="nw-t1"><rect class="tm" x="817" y="603" width="46" height="25" rx="10"/><rect class="tmi" x="817" y="603" width="46" height="25" rx="10"/><text class="tr2"><tspan x="840" y="612.6">Standards, procedures</tspan><tspan x="840" y="616.8">and education of staff</tspan><tspan x="840" y="621">(401, 410)</tspan></text></g>
<g id="nw-t2"><rect class="tm" x="890" y="603" width="68" height="25" rx="10"/><rect class="tmi" x="890" y="603" width="68" height="25" rx="10"/><text class="tr2"><tspan x="924" y="612.6">Better organisation of work on</tspan><tspan x="924" y="616.8">network/hydrant inspection regarding</tspan><tspan x="924" y="621">the water theft (211, 212)</tspan></text></g>
<g id="nw-t3"><rect class="tm" x="1013" y="607" width="49" height="20" rx="9"/><rect class="tmi" x="1013" y="607" width="49" height="20" rx="9"/><text class="tr2"><tspan x="1037.5" y="614.1">Better legislation on</tspan><tspan x="1037.5" y="618.3">water theft and illegal</tspan><tspan x="1037.5" y="622.5">use (213)</tspan></text></g>
<g id="nw-notes"><rect class="wbg" x="899" y="582.5" width="53" height="10"/><text class="s" text-anchor="middle"><tspan x="925.5" y="585.2">NaT = ____ % /km &lt; L_NaT_M</tspan><tspan x="925.5" y="588.2">Or</tspan><tspan x="925.5" y="591.2">NaS = ____ % /km &lt; L_NaS_M</tspan></text>
<rect class="wbg" x="1011" y="582.5" width="53" height="10"/><text class="s" text-anchor="middle"><tspan x="1037.5" y="585.2">NaT = ____ % /km &gt; L_NaT_H</tspan><tspan x="1037.5" y="588.2">and</tspan><tspan x="1037.5" y="591.2">NaS = ____ % /km &gt; L_NaS_H</tspan></text>
<text class="s"><tspan x="962" y="566">NaT = Network inspection</tspan><tspan x="962" y="569.2">NaT = KPI(%) = NS/NP(%)/100 ×</tspan><tspan x="962" y="572.4">100</tspan><tspan x="962" y="577">NaS = Hydrant inspection</tspan><tspan x="962" y="580.2">NaS = KPI = NH(%)/HI(%)</tspan><tspan x="962" y="585">NS = Network inspection (km)</tspan><tspan x="962" y="588.2">NH = Hydrant inspection (No)</tspan><tspan x="962" y="591.4">NP = Network length (km)</tspan><tspan x="962" y="594.6">HI = Hydrants (No)</tspan></text></g>

<!-- HIGH ILI -->
<g id="hi-title"><rect class="ti" x="338" y="532" width="71" height="15"/><text class="tt"><tspan x="373.5" y="538.6">Assess ILI, IF not low,</tspan><tspan x="373.5" y="543.6">continue.</tspan></text></g>
<g id="hi-asset"><rect class="p" x="108" y="564" width="48" height="21"/><path class="b" d="M112,564v21M152,564v21"/><text class="l" x="132" y="575.9">Asset management.</text></g>
<g id="hi-alc"><rect class="p" x="400" y="564" width="52" height="21"/><path class="b" d="M404,564v21M448,564v21"/><text class="l"><tspan x="426" y="573.6">Active leakage</tspan><tspan x="426" y="578.2">control</tspan></text></g>
<g id="hi-speed"><rect class="p" x="698" y="564" width="48" height="21"/><path class="b" d="M702,564v21M742,564v21"/><text class="l"><tspan x="722" y="573.6">Speed and quality of</tspan><tspan x="722" y="578.2">repairs.</tspan></text></g>
<g id="hi-notes"><text class="s" x="143" y="593">You have failure in service connection or mains</text><text class="s" x="431" y="593">You have problem with active leakage control</text><text class="s" x="631" y="593">You have problem with speed and quality of repairs</text></g>

<!-- ASSET -->
<g id="as-title"><rect class="ti" x="97" y="665" width="70" height="9"/><text class="tt" x="132" y="671.1">Assess asset management.</text></g>
<g id="as-nodata"><rect class="o" x="27" y="701" width="46" height="21"/><path class="b" d="M31,701v21M69,701v21"/><text class="l"><tspan x="50" y="710.6">No data.</tspan><tspan x="50" y="715.2">Bad data.</tspan></text></g>
<g id="as-service"><rect class="p" x="106" y="701" width="52" height="21"/><path class="b" d="M110,701v21M154,701v21"/><text class="l" x="132" y="712.9">Service connections.</text></g>
<g id="as-mains"><rect class="p" x="214" y="701" width="52" height="21"/><path class="b" d="M218,701v21M262,701v21"/><text class="l" x="240" y="712.9">Mains.</text></g>
<g id="as-t1"><rect class="tm" x="17" y="732" width="66" height="14" rx="7"/><rect class="tmi" x="17" y="732" width="66" height="14" rx="7"/><text class="tr"><tspan x="50" y="738.2">Standards, procedures and</tspan><tspan x="50" y="742.4">education of staff (411, 413)</tspan></text></g>
<g id="as-notes"><rect class="wbg" x="89" y="729.5" width="88" height="3.5"/><text class="s" x="90" y="732.3">NaSt = ____ No./100 connections/year &gt; L_NaSt_L</text>
<rect class="wbg" x="204" y="729.5" width="68" height="3.5"/><text class="s" x="205" y="732.3">CaS = ____ No./100km/year &gt; L_CaS_L</text>
<text class="s" x="142" y="740">Op1 = Service connection failures (No./100 connections/year)</text><text class="s" x="142" y="748">Op2 = Mains failures (No./100km/year)</text></g>

<!-- ALC -->
<g id="alc-title"><rect class="ti" x="392" y="663" width="69" height="10"/><text class="tt" x="426.5" y="669.6">Assess largest DMA.</text></g>
<g id="alc-nodma"><rect class="o" x="320" y="697" width="48" height="20"/><path class="b" d="M324,697v20M364,697v20"/><text class="l" x="344" y="708.4">No DMA.</text></g>
<g id="alc-largest"><rect class="p" x="401" y="697" width="51" height="20"/><path class="b" d="M405,697v20M448,697v20"/><text class="l" x="426.5" y="708.4">Largest DMA.</text></g>
<g id="alc-small"><rect class="p" x="525" y="697" width="51" height="20"/><path class="b" d="M529,697v20M572,697v20"/><text class="l" x="550.5" y="708.4">Small DMA.</text></g>
<g id="alc-t1"><rect class="tm" x="326" y="740" width="42" height="25" rx="10"/><rect class="tmi" x="326" y="740" width="42" height="25" rx="10"/><text class="tr"><tspan x="347" y="749.6">Organisation of</tspan><tspan x="347" y="753.8">work for ALC</tspan><tspan x="347" y="758">(311)</tspan></text></g>
<g id="alc-t2"><rect class="tm" x="410" y="742" width="33" height="20" rx="9"/><rect class="tmi" x="410" y="742" width="33" height="20" rx="9"/><text class="tr2"><tspan x="426.5" y="751.2">Reduction of</tspan><tspan x="426.5" y="755.4">the static (313)</tspan></text></g>
<g id="alc-notes"><rect class="wbg" x="399" y="726.5" width="53" height="3.5"/><text class="s" x="400" y="729.3">ILI = ____ (%) &gt; L_ILI_H</text>
<text class="s"><tspan x="450" y="739">ILI&amp;L = Real losses in Largest DMA (% of total</tspan><tspan x="450" y="742.2">losses in system)</tspan><tspan x="450" y="751">MNF = Active leakage control volume (MNF)</tspan><tspan x="450" y="754.2">(% of total)</tspan></text>
<rect class="wbg" x="522" y="725" width="60" height="11"/><text class="s" text-anchor="middle"><tspan x="552" y="728">CaS = ____ /L/h &gt; L_CaS_M</tspan><tspan x="552" y="731">And</tspan><tspan x="552" y="734.5">CaR = ____ /m3/conn/year &gt; L_CaR_M</tspan></text></g>

<!-- REPAIRS -->
<g id="rp-title"><rect class="ti" x="688" y="663" width="70" height="17"/><text class="tt"><tspan x="723" y="670.6">Data procedure for data of</tspan><tspan x="723" y="675.6">repairs valid?</tspan></text></g>
<g id="rp-no"><rect class="p" x="666" y="699" width="52" height="19"/><path class="b" d="M670,699v19M714,699v19"/><text class="l" x="692" y="709.9">NO.</text></g>
<g id="rp-yes"><rect class="p" x="819" y="699" width="51" height="19"/><path class="b" d="M823,699v19M866,699v19"/><text class="l" x="844.5" y="709.9">YES.</text></g>
<g id="rp-t1"><rect class="tm" x="674" y="730" width="36" height="23" rx="10"/><rect class="tmi" x="674" y="730" width="36" height="23" rx="10"/><text class="tr2"><tspan x="692" y="738.6">Organisation of</tspan><tspan x="692" y="742.8">work for repairs</tspan><tspan x="692" y="747">(321)</tspan></text></g>

<!-- SERVICE -->
<g id="sc-title"><rect class="ti" x="52" y="797" width="160" height="17"/><text class="tt" x="132" y="807.1">Assess % of service conn. refurb. and % of fixed service conn.</text></g>
<g id="sc-nodata"><rect class="o" x="28" y="833" width="46" height="21"/><path class="b" d="M32,833v21M70,833v21"/><text class="l"><tspan x="51" y="842.6">No data.</tspan><tspan x="51" y="847.2">Bad data.</tspan></text></g>
<g id="sc-refurb"><rect class="p" x="106" y="833" width="51" height="21"/><path class="b" d="M110,833v21M153,833v21"/><text class="l"><tspan x="131.5" y="842.6">No of service</tspan><tspan x="131.5" y="847.2">connections refurb.</tspan></text></g>
<g id="sc-fixed"><rect class="p" x="224" y="833" width="51" height="21"/><path class="b" d="M228,833v21M271,833v21"/><text class="l"><tspan x="249.5" y="842.6">% of fixed/or service</tspan><tspan x="249.5" y="847.2">conn.</tspan></text></g>
<g id="sc-t1"><rect class="tm" x="14" y="873" width="74" height="17" rx="8"/><rect class="tmi" x="14" y="873" width="74" height="17" rx="8"/><text class="tr2"><tspan x="51" y="878.6">Standards, procedures, education of</tspan><tspan x="51" y="882.8">staff (411, 413) and organisation of</tspan><tspan x="51" y="887">work for asset management (343)</tspan></text></g>
<g id="sc-t2"><rect class="tm" x="96" y="873" width="71" height="17" rx="8"/><rect class="tmi" x="96" y="873" width="71" height="17" rx="8"/><text class="tr2"><tspan x="131.5" y="878.6">Organisation of work for asset</tspan><tspan x="131.5" y="882.8">management (343) and replacement</tspan><tspan x="131.5" y="887">policy (345-354-463)</tspan></text></g>
<g id="sc-t3"><rect class="tm" x="227" y="873" width="46" height="17" rx="8"/><rect class="tmi" x="227" y="873" width="46" height="17" rx="8"/><text class="tr2"><tspan x="250" y="878.6">Replacement of bad</tspan><tspan x="250" y="882.8">service connections</tspan><tspan x="250" y="887">(345-354-463)</tspan></text></g>
<g id="sc-notes"><rect class="wbg" x="104" y="857" width="56" height="3.5"/><text class="s" x="105" y="859.8">CaCS = ____ %/year &lt; L_CaCS_H</text>
<rect class="wbg" x="223" y="857" width="53" height="3.5"/><text class="s" x="224" y="859.8">FCR = ____ % &gt; L_FCR_L</text>
<text class="s"><tspan x="172" y="864">NaSR = Service conn. refurbishment</tspan><tspan x="172" y="867.2">rate (%/year)</tspan><tspan x="172" y="877">FCR = Fixed service</tspan><tspan x="172" y="880.2">connections (%)</tspan></text></g>

<!-- MAINS -->
<g id="mn-title"><rect class="ti" x="239" y="917" width="138" height="18"/><text class="tt" style="font-size:4.3px"><tspan x="308" y="925.1">Assess % of mains refurbish. And % of ferrous mains without</tspan><tspan x="308" y="930.1">adequate corrosion protection.</tspan></text></g>
<g id="mn-nodata"><rect class="o" x="211" y="950" width="46" height="21"/><path class="b" d="M215,950v21M253,950v21"/><text class="l"><tspan x="234" y="959.6">No data.</tspan><tspan x="234" y="964.2">Bad data.</tspan></text></g>
<g id="mn-rehab"><rect class="p" x="291" y="950" width="52" height="21"/><path class="b" d="M295,950v21M339,950v21"/><text class="l"><tspan x="317" y="959.6">% of mains</tspan><tspan x="317" y="964.2">rehabilitation.</tspan></text></g>
<g id="mn-ferrous"><rect class="p" x="403" y="951" width="52" height="21"/><path class="b" d="M407,951v21M451,951v21"/><text class="l"><tspan x="429" y="958">% of ferrous mains</tspan><tspan x="429" y="962.6">without adequate</tspan><tspan x="429" y="967.2">corrosion protection.</tspan></text></g>
<g id="mn-t1"><rect class="tm" x="193" y="990" width="74" height="26" rx="11"/><rect class="tmi" x="193" y="990" width="74" height="26" rx="11"/><text class="tr2"><tspan x="230" y="998">Standards, procedures, education of staff</tspan><tspan x="230" y="1002.2">(411, 413), organisation of work for asset</tspan><tspan x="230" y="1006.4">management (343) and follow-up on mains</tspan><tspan x="230" y="1010.6">and their failures (351b, 363d)</tspan></text></g>
<g id="mn-t2"><rect class="tm" x="284" y="990" width="56" height="24" rx="10"/><rect class="tmi" x="284" y="990" width="56" height="24" rx="10"/><text class="tr2"><tspan x="312" y="997">Organisation of work for asset</tspan><tspan x="312" y="1001.2">management and improved pipe</tspan><tspan x="312" y="1005.4">replacement technology (345,</tspan><tspan x="312" y="1009.6">359)</tspan></text></g>
<g id="mn-t3"><rect class="tm" x="409" y="993" width="42" height="24" rx="10"/><rect class="tmi" x="409" y="993" width="42" height="24" rx="10"/><text class="tr2"><tspan x="430" y="1002.1">Pipe protection with</tspan><tspan x="430" y="1006.3">corrosion (type of</tspan><tspan x="430" y="1010.5">Corrosion) (349)</tspan></text></g>
<g id="mn-notes"><rect class="wbg" x="289" y="973.5" width="53" height="3.5"/><text class="s" x="290" y="976.3">NaSt = ____ % &lt; L_NaSt_H</text>
<rect class="wbg" x="405" y="974" width="50" height="3.5"/><text class="s" x="406" y="976.8">CDM = ____ % &gt; L_CDM_L</text>
<text class="s"><tspan x="355" y="973">CaS = Mains</tspan><tspan x="355" y="976.2">rehabilitation (%/year)</tspan><tspan x="355" y="986">CDM = Ferrous mains</tspan><tspan x="355" y="989.2">without adequate</tspan><tspan x="355" y="992.4">corrosion protection, as</tspan><tspan x="355" y="995.6">proportion of total ferrous</tspan><tspan x="355" y="998.8">mains (%)</tspan></text></g>

<!-- SMALL DMA -->
<g id="sd-title"><rect class="ti" x="502" y="798" width="97" height="10"/><text class="tt" x="550.5" y="804.6">Assess ALC repairs, IF low, continue.</text></g>
<g id="sd-high"><rect class="p" x="453" y="828" width="52" height="21"/><path class="b" d="M457,828v21M501,828v21"/><text class="l"><tspan x="479" y="835">ALC repairs and high</tspan><tspan x="479" y="839.6">source of leak control</tspan><tspan x="479" y="844.2">high.</tspan></text></g>
<g id="sd-low"><rect class="p" x="592" y="828" width="51" height="21"/><path class="b" d="M596,828v21M639,828v21"/><text class="l"><tspan x="617.5" y="835">ALC repairs and high</tspan><tspan x="617.5" y="839.6">source of leak control</tspan><tspan x="617.5" y="844.2">low.</tspan></text></g>
<g id="sd-t1"><rect class="tm" x="461" y="862" width="35" height="21" rx="9"/><rect class="tmi" x="461" y="862" width="35" height="21" rx="9"/><text class="tr2"><tspan x="478.5" y="869.6">Organisation of</tspan><tspan x="478.5" y="873.8">work for ALC</tspan><tspan x="478.5" y="878">(313)</tspan></text></g>
<g id="sd-notes"><rect class="wbg" x="591" y="855.5" width="53" height="3.5"/><text class="s" x="592" y="858.3">CaR = ____ ALC/m &gt; L_CaR_L</text>
<text class="s" x="612" y="875">CaR = leakage control (ALC/year)</text></g>

<!-- IMPLEMENT -->
<g id="im-title"><rect class="ti" x="554" y="917" width="127" height="16"/><text class="tt"><tspan x="617.5" y="924.1">Implement measures group (listed below) and then</tspan><tspan x="617.5" y="929.1">evaluate population density and % of ferrous pipes.</tspan></text></g>
<g id="im-first"><rect class="p" x="554" y="951" width="51" height="20"/><path class="b" d="M558,951v20M601,951v20"/><text class="l"><tspan x="579.5" y="960.1">Firstly implement</tspan><tspan x="579.5" y="964.7">measures group.</tspan></text></g>
<g id="im-rate"><rect class="p" x="656" y="947" width="52" height="26"/><path class="b" d="M660,947v26M704,947v26"/><text class="l"><tspan x="682" y="954.5">The rate of</tspan><tspan x="682" y="959.1">population density</tspan><tspan x="682" y="963.7">and % of ferrous</tspan><tspan x="682" y="968.3">pipes are both high.</tspan></text></g>
<g id="im-t1"><rect class="tm" x="556" y="998" width="47" height="20" rx="9"/><rect class="tmi" x="556" y="998" width="47" height="20" rx="9"/><text class="tr2"><tspan x="579.5" y="1005.1">Practical methods/</tspan><tspan x="579.5" y="1009.3">technics, cycle leakage</tspan><tspan x="579.5" y="1013.5">(303, 304, 314)</tspan></text></g>
<g id="im-t2"><rect class="tm" x="654" y="997" width="55" height="20" rx="9"/><rect class="tmi" x="654" y="997" width="55" height="20" rx="9"/><text class="tr2"><tspan x="681.5" y="1004.1">Practical methods/</tspan><tspan x="681.5" y="1008.3">techniques for ALC and</tspan><tspan x="681.5" y="1012.5">detection (313)</tspan></text></g>
<g id="im-notes"><rect class="wbg" x="655" y="975" width="55" height="14"/><text class="s" text-anchor="middle"><tspan x="682.5" y="978">CPD = ____ /km2 &gt; L_CPD_H</tspan><tspan x="682.5" y="982">And</tspan><tspan x="682.5" y="986.5">NaFM = ____ % &gt; L_NaFM_H</tspan></text>
<text class="s"><tspan x="727" y="967">CPD = Population density (person/km2)</tspan><tspan x="727" y="975">NaFM = % of ferrous mains as proportion of</tspan><tspan x="727" y="978.2">mains length</tspan><tspan x="727" y="981.4">Op3 = (CSB + CSP + CSR) / LM × 100</tspan><tspan x="727" y="984.6">CSB = Mains made of steel (%)</tspan><tspan x="727" y="987.8">CSP = Cast iron mains (%)</tspan><tspan x="727" y="991">CSR = Steel mains (%)</tspan><tspan x="727" y="994.2">LM = Mains length (km)</tspan></text></g>

<!-- VALUE -->
<g id="vd-title"><rect class="ti" x="810" y="797" width="69" height="10"/><text class="tt" x="844.5" y="803.6">Assess value density.</text></g>
<g id="vd-nodma"><rect class="o" x="776" y="825" width="52" height="21"/><path class="b" d="M780,825v21M824,825v21"/><text class="l" x="802" y="836.9">No DMA.</text></g>
<g id="vd-high"><rect class="p" x="861" y="825" width="52" height="21"/><path class="b" d="M865,825v21M909,825v21"/><text class="l" x="887" y="836.9">High value density.</text></g>
<g id="vd-low"><rect class="p" x="959" y="825" width="52" height="21"/><path class="b" d="M963,825v21M1007,825v21"/><text class="l" x="985" y="836.9">Low value density.</text></g>
<g id="vd-t1"><rect class="tm" x="785" y="869" width="35" height="21" rx="9"/><rect class="tmi" x="785" y="869" width="35" height="21" rx="9"/><text class="tr2"><tspan x="802.5" y="876.6">Organisation of</tspan><tspan x="802.5" y="880.8">work for repairs</tspan><tspan x="802.5" y="885">(321)</tspan></text></g>
<g id="vd-t2"><rect class="tm" x="868" y="871" width="37" height="17" rx="8"/><rect class="tmi" x="868" y="871" width="37" height="17" rx="8"/><text class="tr2"><tspan x="886.5" y="878.7">Improve equipment</tspan><tspan x="886.5" y="882.9">of repairs (323)</tspan></text></g>
<g id="vd-t3"><rect class="tm" x="968" y="871" width="35" height="17" rx="8"/><rect class="tmi" x="968" y="871" width="35" height="17" rx="8"/><text class="tr2"><tspan x="985.5" y="878.7">Higher quality</tspan><tspan x="985.5" y="882.9">of repairs (322)</tspan></text></g>
<g id="vd-notes"><rect class="wbg" x="861" y="849.5" width="52" height="3.5"/><text class="s" x="862" y="852.3">PVD = ____ /km &gt; L_PVD_H</text>
<rect class="wbg" x="958" y="849.5" width="50" height="3.5"/><text class="s" x="959" y="852.3">PD = ____ /km &lt; L_PVD_L</text>
<text class="s"><tspan x="912" y="863">PVD = Value density (€/m/km)</tspan><tspan x="912" y="866.2">PVN = CaR/CO</tspan><tspan x="912" y="869.4">ND = Distribution mains length (km)</tspan><tspan x="912" y="872.6">CO = Leakage value (€/m3)</tspan></text></g>
</g>
</svg>
